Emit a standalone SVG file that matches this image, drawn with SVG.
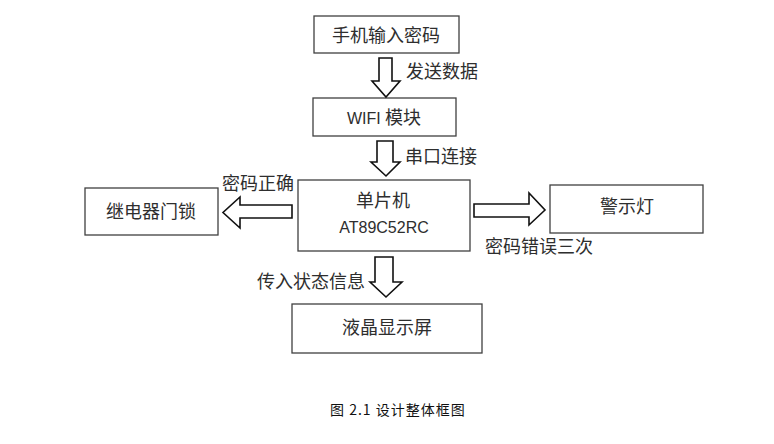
<svg xmlns="http://www.w3.org/2000/svg" width="774" height="444" viewBox="0 0 774 444">
<style>
.box{fill:#fff;stroke:#404040;stroke-width:1.3}
.arr{fill:#fff;stroke:#111;stroke-width:1.6;stroke-linejoin:miter}
text{font-family:"Noto Sans CJK SC","Noto Sans",sans-serif;fill:#2e2e2e;font-size:18px}
.lat{font-family:"Liberation Sans","Noto Sans CJK SC",sans-serif;font-size:16px}
.mid{text-anchor:middle}
.cap{font-size:14px;fill:#111;letter-spacing:1px}
</style>
<rect width="774" height="444" fill="#fff"/>
<g id="n-phone"><rect class="box" x="314" y="16" width="145" height="37"/><text class="mid" x="386" y="42">手机输入密码</text></g>
<g id="n-wifi"><rect class="box" x="313" y="98" width="143" height="38"/><text class="mid" x="384" y="124"><tspan class="lat" font-family="Liberation Sans">WIFI </tspan>模块</text></g>
<g id="n-mcu"><rect class="box" x="298" y="180" width="172" height="71"/><text class="mid" x="383" y="207">单片机</text><text class="mid lat" x="384" y="233">AT89C52RC</text></g>
<g id="n-relay"><rect class="box" x="85" y="188" width="133" height="47"/><text class="mid" x="151" y="218">继电器门锁</text></g>
<g id="n-alarm"><rect class="box" x="550" y="185" width="153" height="48"/><text class="mid" x="627" y="213">警示灯</text></g>
<g id="n-lcd"><rect class="box" x="292" y="304" width="190" height="49"/><text class="mid" x="387" y="334">液晶显示屏</text></g>
<g id="connectors">
<polygon class="arr" points="379,58 392,58 392,81 400,81 386,97 372,81 379,81"/>
<text x="406" y="78">发送数据</text>
<polygon class="arr" points="377,141 393,141 393,162 400,162 386,176 371,162 377,162"/>
<text x="405" y="163">串口连接</text>
<polygon class="arr" points="292,205 240,205 240,197 223,212.5 240,228 240,218 292,218"/>
<text x="222" y="190">密码正确</text>
<polygon class="arr" points="474,204 529,204 529,193 545,210 529,225 529,217 474,217"/>
<text x="485" y="253">密码错误三次</text>
<polygon class="arr" points="375,257 393,257 393,282 402,282 386,297 370,282 375,282"/>
<text x="257" y="288">传入状态信息</text>
</g>
<text class="cap" x="330" y="415">图 2.1 设计整体框图</text>
</svg>
